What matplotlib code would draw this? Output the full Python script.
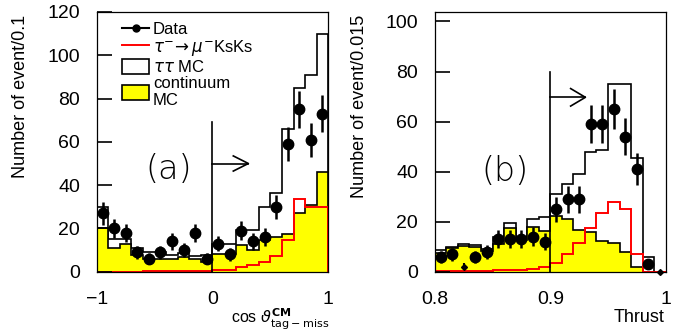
import matplotlib
matplotlib.use("Agg")
import matplotlib.pyplot as plt
import numpy as np
from matplotlib.lines import Line2D
from matplotlib.patches import Patch

plt.rcParams['font.family'] = ['Liberation Sans', 'DejaVu Sans']
plt.rcParams['mathtext.fontset'] = 'dejavusans'

# ---- panel (a): cos theta (tag-miss), 20 bins of 0.1 ----
edges_a = np.linspace(-1, 1, 21)
data_a = [27, 20, 18, 9, 6, 9, 14, 10, 18, 6,
          13, 8, 19, 14, 16, 30, 59, 75, 61, 73]
tautau_a = [30, 15, 15, 10.8, 9.2, 9.2, 7.7, 8.5, 7.2, 7.5,
            13, 13, 19.2, 19.2, 29.7, 36.5, 66, 85, 91, 110]
cont_a = [20.3, 10.8, 12.6, 7.7, 5.7, 5.7, 6, 6.9, 5.7, 4.6,
          8.2, 8.2, 12.3, 10, 14.6, 16, 17.5, 27, 30.8, 46]
sig_a = [0.1, 0.1, 0.1, 0.1, 0.2, 0.2, 0.3, 0.3, 0.4, 0.5,
         0.6, 1, 2, 3, 4.6, 7.2, 14.6, 33.8, 30, 30]
cut_a = 0.0

# ---- panel (b): thrust, 20 bins of 0.01 ----
edges_b = np.linspace(0.8, 1.0, 21)
data_b = [6, 7, 2, 6, 8, 13, 13, 13, 14, 12,
          25, 29, 29, 59, 59, 65, 54, 41, 3, 0]
tautau_b = [8.5, 10, 11, 10.5, 9, 13.7, 19.3, 14, 21, 21.7,
            31, 35, 39, 48, 48.5, 75, 75, 45.3, 6, 0]
cont_b = [7.5, 9.3, 10.3, 9.8, 8.3, 11, 17.5, 12.5, 18, 16.3,
          22.4, 21, 16.7, 16, 12.4, 11.3, 8, 2, 0, 0]
sig_b = [0.2, 0.2, 0.3, 0.3, 0.4, 0.5, 0.7, 0.8, 1.2, 2,
         3.3, 7, 11.3, 17.3, 23.5, 28, 25, 7.2, 0, 0]
cut_b = 0.9

fig = plt.figure(figsize=(6.87, 3.33), dpi=100)
ax_a = fig.add_axes([0.1408, 0.184, 0.337, 0.780])
ax_b = fig.add_axes([0.633, 0.184, 0.336, 0.780])


def draw_panel(ax, edges, data, tautau, cont, sig):
    centers = 0.5 * (edges[:-1] + edges[1:])
    ax.stairs(tautau, edges, fill=True, facecolor='white', edgecolor='black', lw=1.2)
    ax.stairs(cont, edges, fill=True, facecolor='#ffff00', edgecolor='black', lw=1.2)
    ax.stairs(sig, edges, color='#ff0000', lw=1.4)
    data = np.array(data, dtype=float)
    big = data >= 3
    ax.errorbar(centers[big], data[big], yerr=np.sqrt(data[big]), fmt='o',
                color='black', ms=7.5, elinewidth=1.8, capsize=0, zorder=5)
    ax.errorbar(centers[~big], data[~big], yerr=np.sqrt(data[~big]), fmt='D',
                color='black', ms=3, elinewidth=1.5, capsize=0, zorder=5, clip_on=False)


def draw_cut(ax, x0, ytop, yarrow, xlen, yscale):
    ax.plot([x0, x0], [0, ytop], color='black', lw=1.2, zorder=6)
    ax.plot([x0, x0 + xlen], [yarrow, yarrow], color='black', lw=1.2, zorder=6)
    hx = 0.42 * xlen
    ax.plot([x0 + xlen - hx, x0 + xlen, x0 + xlen - hx],
            [yarrow + yscale, yarrow, yarrow - yscale], color='black', lw=1.2, zorder=6)


def style(ax):
    ax.tick_params(axis='y', direction='in', length=11, width=1.2, labelsize=14, pad=12)
    ax.tick_params(axis='x', length=0, labelsize=14, pad=14)
    for s in ax.spines.values():
        s.set_linewidth(0.9)


draw_panel(ax_a, edges_a, data_a, tautau_a, cont_a, sig_a)
draw_cut(ax_a, cut_a, 69, 50, 0.31, 3.5)
ax_a.set_xlim(-1, 1)
ax_a.set_ylim(0, 120)
ax_a.set_xticks([-1, 0, 1])
ax_a.set_xticklabels(['\u22121', '0', '1'])
ax_a.set_yticks([0, 20, 40, 60, 80, 100, 120])
style(ax_a)
ax_a.text(-0.38, 47, '(a)', fontsize=24, ha='center', va='center',
          family=['DejaVu Sans'], fontweight='light')

handles = [
    Line2D([], [], color='black', marker='o', ms=5, lw=1.5),
    Line2D([], [], color='#ff0000', lw=1.4),
    Patch(facecolor='white', edgecolor='black', lw=1.2),
    Patch(facecolor='#ffff00', edgecolor='black', lw=1.2),
]
labels = ['Data', r'$\tau^{-}\!\rightarrow\mu^{-}$KsKs', r'$\tau\tau$ MC', 'continuum\nMC']
ax_a.legend(handles, labels, loc='upper left', bbox_to_anchor=(0.06, 1.01),
            frameon=False, fontsize=12, handlelength=1.6, handleheight=1.0,
            handletextpad=0.25, labelspacing=0.05, borderaxespad=0.3)

draw_panel(ax_b, edges_b, data_b, tautau_b, cont_b, sig_b)
draw_cut(ax_b, cut_b, 80, 69.7, 0.0304, 3.5)
ax_b.set_xlim(0.8, 1.0)
ax_b.set_ylim(0, 103.8)
ax_b.set_xticks([0.8, 0.9, 1.0])
ax_b.set_xticklabels(['0.8', '0.9', '1'])
ax_b.set_yticks([0, 20, 40, 60, 80, 100])
style(ax_b)
ax_b.text(0.861, 40, '(b)', fontsize=24, ha='center', va='center',
          family=['DejaVu Sans'], fontweight='light')

# axis titles
fig.text(21 / 687, 1 - 15 / 333, 'Number of event/0.1', rotation=90,
         ha='center', va='top', fontsize=13)
fig.text(360 / 687, 1 - 15 / 333, 'Number of event/0.015', rotation=90,
         ha='center', va='top', fontsize=13)
fig.text(329 / 687, 1 - 323 / 333,
         r'cos $\vartheta^{\mathbf{CM}}_{\mathrm{tag-miss}}$',
         ha='right', va='baseline', fontsize=11.5)
fig.text(664 / 687, 1 - 318 / 333, 'Thrust', ha='right', va='center', fontsize=13)

fig.savefig('out.png', dpi=100)
